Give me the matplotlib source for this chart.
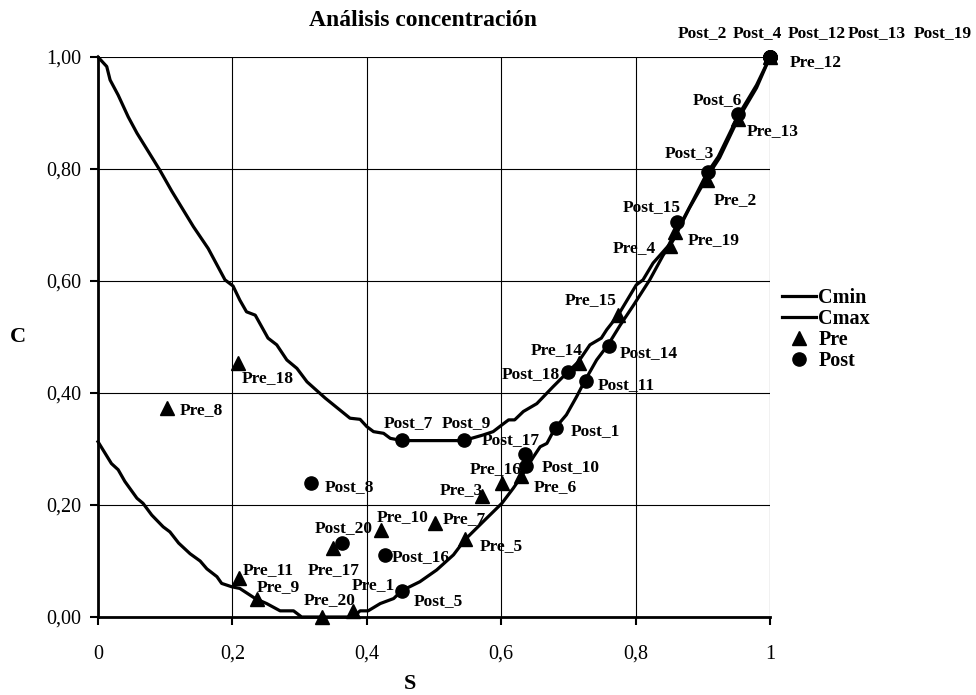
import matplotlib
matplotlib.use("Agg")
import matplotlib.pyplot as plt

plt.rcParams['font.family'] = ['Liberation Serif', 'DejaVu Serif']

# curves
s_cmin = [0.000, 0.020, 0.030, 0.040, 0.058, 0.067, 0.080, 0.097, 0.107, 0.120,
          0.137, 0.152, 0.162, 0.177, 0.184, 0.199, 0.211, 0.234, 0.251, 0.271,
          0.291, 0.303, 0.380, 0.390, 0.402, 0.420, 0.440, 0.452, 0.479, 0.504,
          0.529, 0.546, 0.578, 0.601, 0.618, 0.630, 0.648, 0.658, 0.668, 0.680,
          0.697, 0.712, 0.725, 0.742, 0.759, 0.777, 0.797, 0.821, 0.841, 0.856,
          0.880, 0.906, 0.925, 0.952, 0.980, 1.000]
c_cmin = [0.313, 0.274, 0.263, 0.242, 0.212, 0.203, 0.182, 0.161, 0.152, 0.132,
          0.113, 0.100, 0.086, 0.072, 0.060, 0.054, 0.051, 0.033, 0.024, 0.011,
          0.011, 0.000, 0.000, 0.011, 0.011, 0.024, 0.033, 0.047, 0.063, 0.084,
          0.111, 0.138, 0.176, 0.203, 0.230, 0.251, 0.286, 0.304, 0.310, 0.337,
          0.361, 0.393, 0.423, 0.459, 0.486, 0.521, 0.557, 0.602, 0.646, 0.673,
          0.730, 0.785, 0.820, 0.888, 0.945, 1.000]

s_cmax = [0.000, 0.013, 0.018, 0.030, 0.045, 0.058, 0.092, 0.110, 0.142, 0.164,
          0.189, 0.201, 0.211, 0.221, 0.234, 0.253, 0.266, 0.281, 0.296, 0.311,
          0.338, 0.375, 0.390, 0.400, 0.410, 0.425, 0.435, 0.453, 0.544, 0.573,
          0.588, 0.601, 0.611, 0.620, 0.633, 0.653, 0.677, 0.697, 0.715, 0.732,
          0.749, 0.757, 0.774, 0.801, 0.811, 0.826, 0.854, 0.862, 0.886, 0.906,
          0.923, 0.953, 0.980, 1.000]
c_cmax = [1.000, 0.983, 0.959, 0.932, 0.893, 0.864, 0.798, 0.760, 0.697, 0.658,
          0.602, 0.591, 0.566, 0.545, 0.539, 0.498, 0.486, 0.459, 0.444, 0.420,
          0.391, 0.355, 0.353, 0.340, 0.331, 0.328, 0.319, 0.315, 0.315, 0.325,
          0.331, 0.343, 0.352, 0.352, 0.367, 0.381, 0.411, 0.435, 0.456, 0.486,
          0.498, 0.513, 0.539, 0.593, 0.602, 0.632, 0.670, 0.690, 0.745, 0.792,
          0.822, 0.896, 0.950, 1.000]

pre_names = ["Pre_%d" % i for i in range(1, 21)]
pre_s = [0.380, 0.906, 0.572, 0.851, 0.546, 0.630, 0.501, 0.102, 0.236, 0.421,
         0.210, 1.000, 0.953, 0.716, 0.774, 0.601, 0.350, 0.209, 0.859, 0.333]
pre_c = [0.011, 0.780, 0.216, 0.662, 0.139, 0.252, 0.168, 0.373, 0.032, 0.155,
         0.069, 1.000, 0.890, 0.454, 0.539, 0.240, 0.123, 0.453, 0.688, 0.000]

post_names = ["Post_%d" % i for i in range(1, 21)]
post_s = [0.682, 1.000, 0.908, 1.000, 0.453, 0.953, 0.453, 0.317, 0.545, 0.637,
          0.726, 1.000, 1.000, 0.760, 0.862, 0.427, 0.635, 0.699, 1.000, 0.363]
post_c = [0.338, 1.000, 0.794, 1.000, 0.047, 0.899, 0.316, 0.240, 0.316, 0.269,
          0.422, 1.000, 1.000, 0.484, 0.706, 0.111, 0.291, 0.438, 1.000, 0.133]

# label placement: pixels from the point to the text's left edge / middle
pre_off = [(-2, 26), (7, -20), (-43, 6), (-57, -2), (15, -7), (12, -11), (8, 4),
           (13, -2), (0, 12), (-4, 13), (4, 8), (20, -5), (8, -12), (-48, 13),
           (-53, 15), (-32, 14), (-25, -22), (3, -15), (12, -8), (-18, 17)]
post_off = [(14, -3), (-92, 24), (-43, 19), (-37, 24), (11, -10), (-46, 13),
            (-19, 17), (14, -4), (-23, 17), (16, -1), (12, -4), (18, 24),
            (78, 24), (11, -7), (-55, 15), (7, -2), (-43, 14), (-66, -2),
            (144, 24), (-27, 14)]

fig = plt.figure(figsize=(9.76, 6.95), dpi=100)
ax = fig.add_axes([98 / 976, 1 - 617 / 695, 672 / 976, 560 / 695])

ax.plot(s_cmin, c_cmin, color='black', lw=2.3, solid_joinstyle='round',
        clip_on=False, label='Cmin', zorder=3)
ax.plot(s_cmax, c_cmax, color='black', lw=2.3, solid_joinstyle='round',
        clip_on=False, label='Cmax', zorder=3)
ax.plot(pre_s, pre_c, ls='none', marker='^', ms=10, color='black',
        clip_on=False, label='Pre', zorder=4)
ax.plot(post_s, post_c, ls='none', marker='o', ms=9.5, color='black',
        clip_on=False, label='Post', zorder=5)

for names, xs, ys, offs in [(pre_names, pre_s, pre_c, pre_off),
                            (post_names, post_s, post_c, post_off)]:
    for n, x, y, (dx, dy) in zip(names, xs, ys, offs):
        ax.annotate(n, (x, y), xytext=(dx, dy), textcoords='offset pixels',
                    ha='left', va='center', fontsize=12.5, fontweight='bold',
                    annotation_clip=False, zorder=6)

ax.set_xlim(0, 1)
ax.set_ylim(0, 1)
ax.set_xticks([0, 0.2, 0.4, 0.6, 0.8, 1])
ax.set_xticklabels(['0', '0,2', '0,4', '0,6', '0,8', '1'])
ax.set_yticks([0, 0.2, 0.4, 0.6, 0.8, 1.0])
ax.set_yticklabels(['0,00', '0,20', '0,40', '0,60', '0,80', '1,00'])
ax.tick_params(labelsize=14.5, length=6, width=1.5, direction='out')
ax.tick_params(axis='x', pad=14)
ax.tick_params(axis='y', pad=6)
ax.grid(True, color='black', lw=0.8)
ax.set_axisbelow(True)
for side in ['top', 'right']:
    ax.spines[side].set_visible(False)
for side in ['left', 'bottom']:
    ax.spines[side].set_linewidth(2)

ax.set_xlabel('S', fontsize=16, fontweight='bold', va='center')
ax.xaxis.set_label_coords(0.464, -0.12)
ax.set_ylabel('C', fontsize=16, fontweight='bold', rotation=0, va='center')
ax.yaxis.set_label_coords(-0.119, 0.5)

fig.text(423 / 976, 1 - 20 / 695, 'Análisis concentración', ha='center',
         va='center', fontsize=17, fontweight='bold')

fig.legend(loc='upper left', bbox_to_anchor=(782 / 976, 1 - 288 / 695),
           frameon=False, prop={'size': 14.5, 'weight': 'bold'},
           handlelength=1.7, handletextpad=0.1, labelspacing=0.05,
           borderpad=0, borderaxespad=0)

fig.savefig('out.png', dpi=100)
